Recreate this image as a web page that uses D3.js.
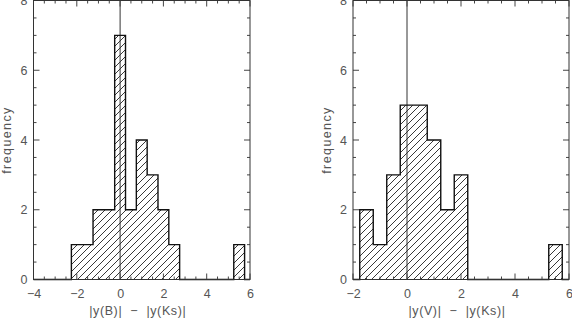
<!DOCTYPE html>
<html>
<head>
<meta charset="utf-8">
<script src="https://cdn.jsdelivr.net/npm/d3@7"></script>
<style>
  body { margin: 0; background: #fff; }
  svg text { font-family: "Liberation Sans", Arial, sans-serif; fill: #555; }
</style>
</head>
<body>
<div id="chart"></div>
<script>
// histogram bins (centres, width 0.5) and counts
var binWidth = 0.5
var binsB = [-2, -1.5, -1, -0.5, 0, 0.5, 1, 1.5, 2, 2.5, 3, 3.5, 4, 4.5, 5, 5.5]
var countsB = [1, 1, 2, 2, 7, 2, 4, 3, 2, 1, 0, 0, 0, 0, 0, 1]
var binsV = [-1.5, -1, -0.5, 0, 0.5, 1, 1.5, 2, 2.5, 3, 3.5, 4, 4.5, 5, 5.5]
var countsV = [2, 1, 3, 5, 5, 4, 2, 3, 0, 0, 0, 0, 0, 0, 1]

// axes
var xTicksB = [-4, -2, 0, 2, 4, 6]
var xTicksV = [-2, 0, 2, 4, 6]
var yTicks = [0, 2, 4, 6, 8]
var labelB = "|y(B)|  \u2212  |y(Ks)|"
var labelV = "|y(V)|  \u2212  |y(Ks)|"
var yLabel = "frequency"

var w = 572, h = 319

var svg = d3.select("#chart")
	.append("svg")
	.attr("width", w)
	.attr("height", h)

// hatch pattern
svg.append("defs")
	.append("pattern")
	.attr("id", "hatch")
	.attr("patternUnits", "userSpaceOnUse")
	.attr("width", 7)
	.attr("height", 7)
	.selectAll("path")
	.data(["M0,7 L7,0", "M-1,1 L1,-1", "M6,8 L8,6"])
	.enter()
	.append("path")
	.attr("d", function(d) {return d})
	.attr("stroke", "#222")
	.attr("stroke-width", 0.9)

function drawPanel(opt) {
	var x = d3.scaleLinear().domain(opt.xDomain).range([opt.left, opt.right])
	var y = d3.scaleLinear().domain([0, 8]).range([279.5, 0.5])
	var g = svg.append("g")

	// left edges of bins + closing edge, for step curves
	var stepPts = [[opt.bins[0] - binWidth / 2, 0]]
	opt.bins.forEach(function(c, i) {
		stepPts.push([c - binWidth / 2, opt.counts[i]])
	})
	stepPts.push([opt.bins[opt.bins.length - 1] + binWidth / 2, 0])

	// area under histogram (hatched)
	var area = d3.area()
		.x(function(d) {return x(d[0])})
		.y0(y(0))
		.y1(function(d) {return y(d[1])})
		.curve(d3.curveStepAfter)

	g.append("path")
		.attr("d", area(stepPts))
		.attr("fill", "url(#hatch)")

	// zero line
	g.append("line")
		.attr("x1", x(0)).attr("x2", x(0))
		.attr("y1", y(8)).attr("y2", y(0))
		.attr("stroke", "#333")
		.attr("stroke-width", 1)

	// outline (runs along the baseline across the whole plot)
	var outline = d3.line()
		.x(function(d) {return x(d[0])})
		.y(function(d) {return y(d[1])})
		.curve(d3.curveStepAfter)
	var full = [[opt.xDomain[0], 0]].concat(stepPts.slice(0, -1))
	full.push([stepPts[stepPts.length - 1][0], 0])
	full.push([opt.xDomain[1], 0])

	g.append("path")
		.attr("d", outline(full))
		.attr("fill", "none")
		.attr("stroke", "#111")
		.attr("stroke-width", 1.4)

	// minor/major ticks
	var xMinor = d3.range(opt.xDomain[0], opt.xDomain[1] + 0.01, 0.5)
	var yMinor = d3.range(0, 8.01, 0.5)
	var tickCol = "#444"
	xMinor.forEach(function(v) {
		var len = (v % 2 == 0) ? 6 : 3
		g.append("line").attr("x1", x(v)).attr("x2", x(v))
			.attr("y1", y(0)).attr("y2", y(0) - len)
			.attr("stroke", tickCol)
		g.append("line").attr("x1", x(v)).attr("x2", x(v))
			.attr("y1", y(8)).attr("y2", y(8) + len)
			.attr("stroke", tickCol)
	})
	yMinor.forEach(function(v) {
		var len = (v % 2 == 0) ? 6 : 3
		g.append("line").attr("x1", opt.left).attr("x2", opt.left + len)
			.attr("y1", y(v)).attr("y2", y(v))
			.attr("stroke", tickCol)
		g.append("line").attr("x1", opt.right).attr("x2", opt.right - len)
			.attr("y1", y(v)).attr("y2", y(v))
			.attr("stroke", tickCol)
	})

	// frame
	g.append("rect")
		.attr("x", opt.left).attr("y", y(8))
		.attr("width", opt.right - opt.left)
		.attr("height", y(0) - y(8))
		.attr("fill", "none")
		.attr("stroke", "#333")
		.attr("stroke-width", 1)

	// tick labels via d3 axis (lines hidden)
	g.append("g")
		.attr("transform", "translate(0," + y(0) + ")")
		.call(d3.axisBottom(x).tickValues(opt.xTicks).tickSize(0).tickPadding(10)
			.tickFormat(d3.format("d")))
	g.append("g")
		.attr("transform", "translate(" + opt.left + ",0)")
		.call(d3.axisLeft(y).tickValues(yTicks).tickSize(0).tickPadding(6)
			.tickFormat(d3.format("d")))
	g.selectAll(".domain").remove()
	g.selectAll(".tick text")
		.style("font-size", "12.5px")
		.attr("fill", null)
		.style("font-family", "Liberation Sans, Arial, sans-serif")

	g.append("text")
		.attr("x", (opt.left + opt.right) / 2 - 4)
		.attr("y", 315)
		.attr("text-anchor", "middle")
		.style("font-size", "12.5px")
		.style("letter-spacing", "0.6px")
		.style("white-space", "pre")
		.text(opt.label)

	g.append("text")
		.attr("transform", "translate(" + (opt.left - 22.5) + "," + (y(4)) + ") rotate(-90)")
		.attr("text-anchor", "middle")
		.style("font-size", "12.5px")
		.style("letter-spacing", "1.4px")
		.text(yLabel)
}

drawPanel({left: 33.5, right: 250, xDomain: [-4, 6], bins: binsB, counts: countsB, xTicks: xTicksB, label: labelB})
drawPanel({left: 353, right: 569, xDomain: [-2, 6], bins: binsV, counts: countsV, xTicks: xTicksV, label: labelV})
</script>
</body>
</html>
